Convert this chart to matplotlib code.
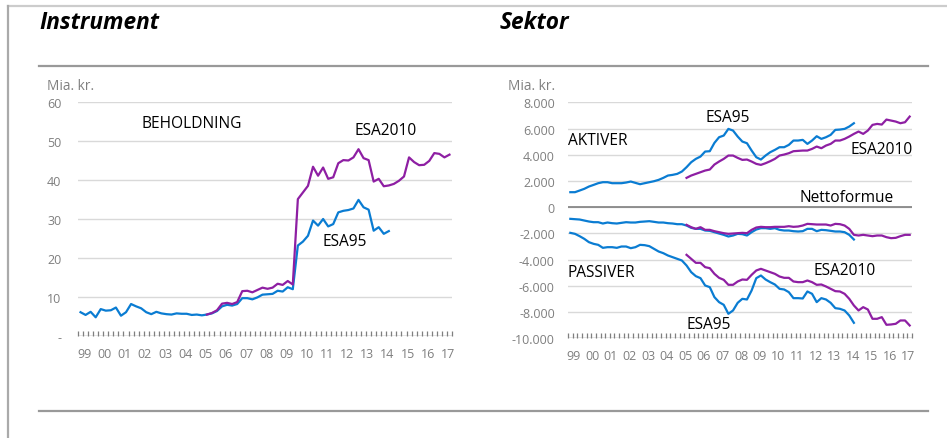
import numpy as np
import matplotlib
matplotlib.use("Agg")
import matplotlib.pyplot as plt
from matplotlib.lines import Line2D

plt.rcParams['font.family'] = ['Open Sans', 'DejaVu Sans']

# kvartaler 1999K1 - 2017K2
n_q = 74
year_labels = ['99', '00', '01', '02', '03', '04', '05', '06', '07', '08',
               '09', '10', '11', '12', '13', '14', '15', '16', '17']

# Instrument, beholdning (mia. kr.)
instr_esa95 = [6.1, 5.4, 6.2, 4.8, 6.9, 6.5, 6.6, 7.3, 5.2, 6.1, 8.2, 7.6, 7.1, 6.1, 5.6, 6.2,
               5.8, 5.6, 5.5, 5.8, 5.7, 5.7, 5.4, 5.5, 5.3, 5.5, 5.8, 6.4, 7.6, 8.0, 7.8, 8.2,
               9.7, 9.7, 9.4, 9.9, 10.6, 10.7, 10.8, 11.6, 11.4, 12.5, 12.0, 23.2, 24.2, 25.7,
               29.6, 28.3, 30.0, 28.1, 28.7, 31.7, 32.1, 32.3, 32.7, 34.9, 33.0, 32.4, 27.0,
               27.9, 26.2, 26.9]
instr_esa2010 = [5.5, 5.9, 6.6, 8.3, 8.5, 8.2, 8.7, 11.5, 11.6, 11.2, 11.8, 12.4, 12.1, 12.4,
                 13.4, 13.1, 14.1, 13.2, 35.1, 36.8, 38.5, 43.4, 41.1, 43.2, 40.3, 40.7, 44.3,
                 45.1, 45.0, 45.8, 47.9, 45.6, 45.1, 39.6, 40.3, 38.4, 38.6, 39.0, 39.8, 40.9,
                 45.8, 44.6, 43.8, 43.9, 44.9, 46.9, 46.7, 45.8, 46.5]
start_2010 = 25  # 2005K2

# Sektor (mia. kr.)
akt_esa95 = [1144, 1144, 1270, 1400, 1575, 1700, 1830, 1906, 1906, 1830, 1830, 1830, 1880,
             1957, 1855, 1753, 1830, 1906, 1982, 2084, 2236, 2414, 2465, 2541, 2719, 3050,
             3430, 3685, 3863, 4244, 4270, 4905, 5337, 5464, 5972, 5845, 5388, 5006, 4879,
             4320, 3812, 3634, 3939, 4193, 4371, 4574, 4574, 4752, 5083, 5083, 5134, 4828,
             5083, 5413, 5210, 5337, 5515, 5896, 5921, 5972, 6150, 6404]
akt_esa2010 = [2236, 2414, 2541, 2668, 2795, 2872, 3253, 3482, 3685, 3939, 3939, 3761, 3609,
               3634, 3482, 3304, 3227, 3354, 3507, 3685, 3939, 4015, 4117, 4270, 4295, 4320,
               4320, 4447, 4625, 4498, 4701, 4828, 5083, 5083, 5210, 5388, 5591, 5769, 5591,
               5845, 6277, 6353, 6302, 6683, 6607, 6531, 6404, 6480, 6912]
netto_esa95 = [-889, -915, -940, -1017, -1093, -1144, -1144, -1245, -1169, -1220, -1245, -1194,
               -1144, -1169, -1169, -1118, -1093, -1067, -1118, -1169, -1169, -1220, -1245,
               -1296, -1296, -1398, -1576, -1652, -1652, -1779, -1804, -1906, -2008, -2109,
               -2236, -2160, -2033, -2058, -2160, -1906, -1703, -1601, -1601, -1652, -1601,
               -1728, -1779, -1779, -1830, -1855, -1830, -1652, -1652, -1830, -1728, -1754,
               -1804, -1855, -1855, -1906, -2109, -2465]
netto_esa2010 = [-1347, -1525, -1652, -1525, -1728, -1728, -1830, -1906, -1982, -2033, -2008,
                 -1982, -1957, -1982, -1728, -1550, -1499, -1525, -1525, -1499, -1499, -1499,
                 -1449, -1499, -1474, -1398, -1271, -1296, -1322, -1322, -1322, -1398, -1271,
                 -1296, -1398, -1652, -2109, -2160, -2109, -2160, -2211, -2160, -2160, -2287,
                 -2363, -2338, -2211, -2109, -2109]
pas_esa95 = [-1957, -2033, -2211, -2414, -2668, -2795, -2872, -3100, -3050, -3050, -3100, -2999,
             -2999, -3126, -3050, -2872, -2897, -2973, -3177, -3380, -3507, -3685, -3812, -3939,
             -4066, -4447, -4955, -5261, -5413, -5972, -6099, -6861, -7243, -7446, -8132, -7878,
             -7294, -6989, -7040, -6353, -5413, -5210, -5515, -5718, -5896, -6226, -6277, -6480,
             -6938, -6938, -6963, -6429, -6607, -7243, -6938, -7040, -7294, -7700, -7751, -7878,
             -8259, -8818]
pas_esa2010 = [-3634, -3939, -4244, -4244, -4574, -4650, -5083, -5388, -5540, -5921, -5921,
               -5667, -5515, -5540, -5159, -4828, -4701, -4828, -4955, -5083, -5286, -5388,
               -5388, -5667, -5718, -5718, -5591, -5718, -5921, -5896, -6048, -6226, -6404,
               -6429, -6607, -6989, -7497, -7878, -7624, -7802, -8513, -8513, -8386, -8970,
               -8945, -8894, -8640, -8640, -9021]

BLUE = '#0a7cd2'
PURPLE = '#8e1fa3'
GREY = '#7f7f7f'
GRID = '#d9d9d9'
FS_TXT = 11.2
FS_TICK = 9

W, H = 947, 439
fig = plt.figure(figsize=(W / 100, H / 100), dpi=100)


def box(x0, x1, ytop, ybot):
    return [x0 / W, 1 - ybot / H, (x1 - x0) / W, (ybot - ytop) / H]


def style_axis(ax, ymin, ymax, step, fmt, ypad):
    ax.set_xlim(-0.5, n_q - 0.5)
    ax.set_ylim(ymin, ymax)
    for s in ax.spines.values():
        s.set_visible(False)
    ax.axhline(ymin, color=GREY, lw=1, zorder=1)
    yt = np.arange(ymin, ymax + step / 2, step)
    for v in yt[1:]:
        ax.axhline(v, color=GRID, lw=1, zorder=0)
    ax.set_yticks(yt)
    ax.set_yticklabels([fmt(v) for v in yt])
    ax.tick_params(axis='y', length=0, pad=ypad, labelsize=FS_TICK, labelcolor=GREY)
    ax.set_xticks(np.arange(len(year_labels)) * 4 + 0.75)
    ax.set_xticklabels(year_labels)
    ax.set_xticks(np.arange(-0.5, n_q, 1), minor=True)
    ax.tick_params(axis='x', which='major', length=0, pad=8, labelsize=FS_TICK, labelcolor=GREY)
    ax.tick_params(axis='x', which='minor', direction='in', length=3.5, color=GREY, width=0.9)


x95 = np.arange(len(instr_esa95))
x10 = np.arange(start_2010, start_2010 + len(instr_esa2010))

# venstre: Instrument
ax1 = fig.add_axes(box(78, 452, 103, 337))
style_axis(ax1, 0, 60, 10, lambda v: '-' if v == 0 else '%d' % v, 12)
ax1.plot(x95, instr_esa95, color=BLUE, lw=1.6, zorder=3)
ax1.plot(x10, instr_esa2010, color=PURPLE, lw=1.6, zorder=3)
ax1.text(12.1, 54.5, 'BEHOLDNING', fontsize=FS_TXT, va='center')
ax1.text(54.2, 52.7, 'ESA2010', fontsize=FS_TXT, va='center')
ax1.text(47.9, 24.4, 'ESA95', fontsize=FS_TXT, va='center')

# højre: Sektor
ax2 = fig.add_axes(box(568, 912, 103.3, 339.3))
style_axis(ax2, -10000, 8000, 2000,
           lambda v: '0' if v == 0 else '{:,.0f}'.format(v).replace(',', '.'), 9.5)
ax2.axhline(0, color=GREY, lw=1.2, zorder=1)
ax2.plot(x95, akt_esa95, color=BLUE, lw=1.6, zorder=3)
ax2.plot(x10, akt_esa2010, color=PURPLE, lw=1.6, zorder=3)
ax2.plot(x95, netto_esa95, color=BLUE, lw=1.6, zorder=3)
ax2.plot(x10, netto_esa2010, color=PURPLE, lw=1.6, zorder=3)
ax2.plot(x95, pas_esa95, color=BLUE, lw=1.6, zorder=3)
ax2.plot(x10, pas_esa2010, color=PURPLE, lw=1.6, zorder=3)
ax2.text(29.0, 6850, 'ESA95', fontsize=FS_TXT, va='center')
ax2.text(-0.6, 5100, 'AKTIVER', fontsize=FS_TXT, va='center')
ax2.text(60.2, 4450, 'ESA2010', fontsize=FS_TXT, va='center')
ax2.text(49.2, 750, 'Nettoformue', fontsize=FS_TXT, va='center')
ax2.text(-0.6, -4920, 'PASSIVER', fontsize=FS_TXT, va='center')
ax2.text(52.4, -4800, 'ESA2010', fontsize=FS_TXT, va='center')
ax2.text(24.9, -8890, 'ESA95', fontsize=FS_TXT, va='center')

# titler og enheder
fig.text(39 / W, 1 - 23 / H, 'Instrument', fontsize=16.3, fontweight='bold',
         fontstyle='italic', va='center')
fig.text(500 / W, 1 - 23 / H, 'Sektor', fontsize=16.3, fontweight='bold',
         fontstyle='italic', va='center')
fig.text(47 / W, 1 - 86 / H, 'Mia. kr.', fontsize=9.8, color=GREY, va='center')
fig.text(508 / W, 1 - 86 / H, 'Mia. kr.', fontsize=9.8, color=GREY, va='center')

# rammer
fig.add_artist(Line2D([8 / W, 1], [1 - 7 / H, 1 - 7 / H], color='#cccccc', lw=1.6))
fig.add_artist(Line2D([8 / W, 8 / W], [1 - 7 / H, 0], color='#aaaaaa', lw=1.6))
fig.add_artist(Line2D([39 / W, 928 / W], [1 - 67 / H, 1 - 67 / H], color='#999999', lw=1.6))
fig.add_artist(Line2D([39 / W, 928 / W], [1 - 412 / H, 1 - 412 / H], color='#999999', lw=1.6))

fig.savefig('out.png', dpi=100)
